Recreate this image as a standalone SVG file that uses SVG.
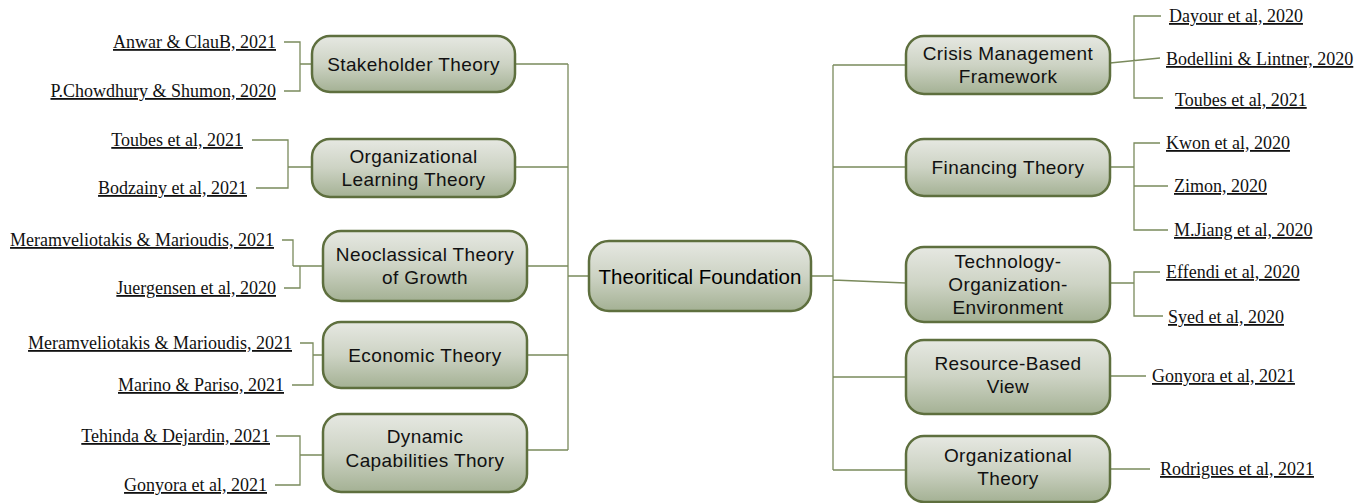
<svg xmlns="http://www.w3.org/2000/svg" width="1369" height="503" viewBox="0 0 1369 503">
<style>
.box{fill:url(#g);stroke:#5e6f3e;stroke-width:2.5}
.nt{font-family:"Liberation Sans",Arial,sans-serif;font-size:19px;letter-spacing:0.4px;fill:#111;text-anchor:middle}
.ct{font-family:"Liberation Sans",Arial,sans-serif;font-size:20.5px;fill:#000;text-anchor:middle}
.cit{font-family:"Liberation Serif","Times New Roman",serif;font-size:18px;fill:#111;text-decoration:underline}
.r{text-anchor:end}
.c path{fill:none;stroke:#7a8a5c;stroke-width:1.3}
</style>
<defs>
<linearGradient id="g" x1="0" y1="0" x2="0" y2="1">
<stop offset="0" stop-color="#e6e8e2"/>
<stop offset="0.5" stop-color="#cdd3c4"/>
<stop offset="1" stop-color="#a4b194"/>
</linearGradient>
</defs>
<rect width="1369" height="503" fill="#fff"/>
<g class="c" id="connectors">
<path d="M568 64V450M515 64H568M515 167H568M527 266H568M527 355H568M527 450H568M568 276H589"/>
<path d="M833 65V470M811 276H833M833 65H906M833 167H906M833 280L906 283M833 377H906M833 470H906"/>
<path d="M284 42H300V91H284M300 64H312"/>
<path d="M252 140H288V188H256M288 167H312"/>
<path d="M282 240H293V266M293 266H323M300 266V288H284"/>
<path d="M300 343H313V385H292M313 355H323"/>
<path d="M276 436H300V485H275M300 455H323"/>
<path d="M1161 16H1134V98H1163M1110 63L1160 58"/>
<path d="M1160 143H1134V230H1168M1110 167H1134M1134 186H1168"/>
<path d="M1160 272H1134V316H1163M1110 283H1134"/>
<path d="M1110 376H1146M1110 469H1150"/>
</g>
<g id="center"><rect class="box" x="589" y="241" width="222" height="70" rx="20"/><text class="ct" x="700" y="284">Theoritical Foundation</text></g>
<g id="n-stakeholder"><rect class="box" x="312" y="36" width="203" height="56" rx="18"/><text class="nt" x="413.5" y="71">Stakeholder Theory</text></g>
<g id="n-orglearning"><rect class="box" x="312" y="139" width="203" height="58" rx="18"/><text class="nt" x="413.5" y="163">Organizational</text><text class="nt" x="413.5" y="186">Learning Theory</text></g>
<g id="n-neoclassical"><rect class="box" x="323" y="231" width="204" height="70" rx="18"/><text class="nt" x="425" y="261">Neoclassical Theory</text><text class="nt" x="425" y="284">of Growth</text></g>
<g id="n-economic"><rect class="box" x="323" y="322" width="204" height="66" rx="18"/><text class="nt" x="425" y="362">Economic Theory</text></g>
<g id="n-dynamic"><rect class="box" x="323" y="414" width="204" height="78" rx="18"/><text class="nt" x="425" y="443">Dynamic</text><text class="nt" x="425" y="467">Capabilities Thory</text></g>
<g id="n-crisis"><rect class="box" x="906" y="36" width="204" height="58" rx="18"/><text class="nt" x="1008" y="60">Crisis Management</text><text class="nt" x="1008" y="83">Framework</text></g>
<g id="n-financing"><rect class="box" x="906" y="139" width="204" height="57" rx="18"/><text class="nt" x="1008" y="174">Financing Theory</text></g>
<g id="n-toe"><rect class="box" x="906" y="247" width="204" height="75" rx="18"/><text class="nt" x="1008" y="268">Technology-</text><text class="nt" x="1008" y="291">Organization-</text><text class="nt" x="1008" y="314">Environment</text></g>
<g id="n-rbv"><rect class="box" x="906" y="340" width="204" height="74" rx="18"/><text class="nt" x="1008" y="370">Resource-Based</text><text class="nt" x="1008" y="393">View</text></g>
<g id="n-org"><rect class="box" x="906" y="436" width="204" height="66" rx="18"/><text class="nt" x="1008" y="462">Organizational</text><text class="nt" x="1008" y="485">Theory</text></g>
<g id="citations">
<text class="cit r" x="276" y="48">Anwar &amp; ClauB, 2021</text>
<text class="cit r" x="276" y="97">P.Chowdhury &amp; Shumon, 2020</text>
<text class="cit r" x="243" y="146">Toubes et al, 2021</text>
<text class="cit r" x="247" y="194">Bodzainy et al, 2021</text>
<text class="cit r" x="274" y="246">Meramveliotakis &amp; Marioudis, 2021</text>
<text class="cit r" x="276" y="294">Juergensen et al, 2020</text>
<text class="cit r" x="292" y="349">Meramveliotakis &amp; Marioudis, 2021</text>
<text class="cit r" x="284" y="391">Marino &amp; Pariso, 2021</text>
<text class="cit r" x="270" y="442">Tehinda &amp; Dejardin, 2021</text>
<text class="cit r" x="267" y="491">Gonyora et al, 2021</text>
<text class="cit" x="1169" y="22">Dayour et al, 2020</text>
<text class="cit" x="1166" y="65">Bodellini &amp; Lintner, 2020</text>
<text class="cit" x="1175" y="106">Toubes et al, 2021</text>
<text class="cit" x="1166" y="149">Kwon et al, 2020</text>
<text class="cit" x="1174" y="192">Zimon, 2020</text>
<text class="cit" x="1174" y="236">M.Jiang et al, 2020</text>
<text class="cit" x="1166" y="278">Effendi et al, 2020</text>
<text class="cit" x="1168" y="323">Syed et al, 2020</text>
<text class="cit" x="1152" y="382">Gonyora et al, 2021</text>
<text class="cit" x="1160" y="475">Rodrigues et al, 2021</text>
</g>
</svg>
